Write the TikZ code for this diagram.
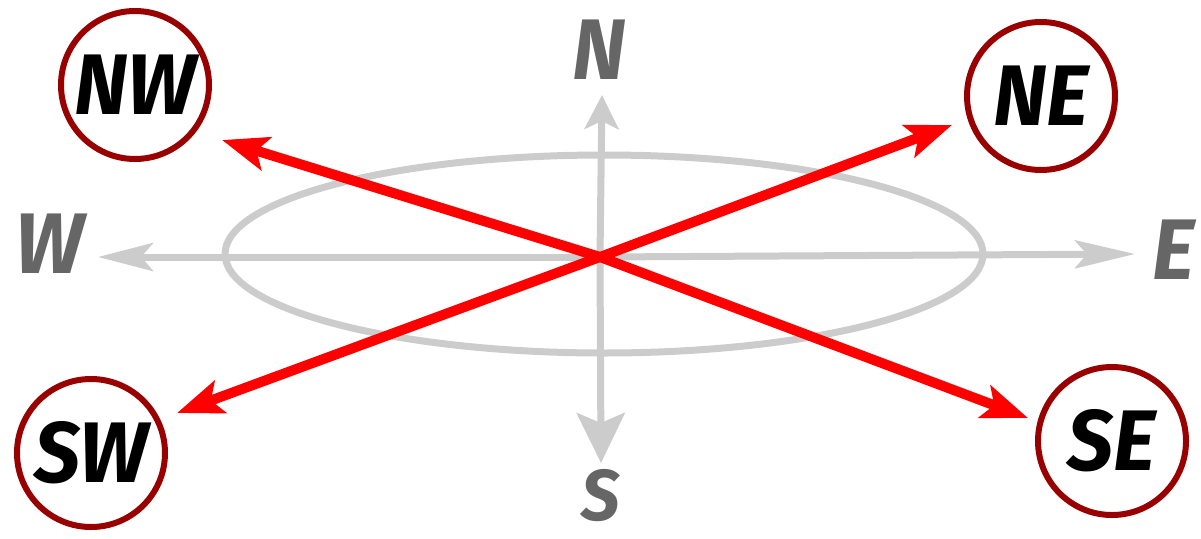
\documentclass[tikz,border=0pt]{standalone}
\usepackage{fontspec}
\setmainfont{Fira Sans}
\usetikzlibrary{arrows.meta}
\definecolor{axisgray}{HTML}{CCCCCC}
\definecolor{lblgray}{HTML}{666666}
\definecolor{ringred}{HTML}{990000}
\definecolor{arrred}{HTML}{FF0000}
\tikzset{
  axisline/.style={draw=axisgray, line width=7pt},
  ellipseline/.style={draw=axisgray, line width=7pt},
  redarrow/.style={draw=arrred, line width=10pt, -{Stealth[length=46pt,width=34pt,inset=10pt]}},
  ring/.style={circle, draw=ringred, line width=6pt, fill=white, minimum size=148pt, inner sep=0pt,
    font=\fontsize{86}{86}\selectfont\bfseries\itshape, text=black},
  compasslbl/.style={inner sep=0pt, font=\fontsize{86}{86}\selectfont\bfseries\itshape, text=lblgray}
}
\newcommand{\sq}[1]{\scalebox{0.95}[1]{#1}}
\begin{document}
\begin{tikzpicture}[x=1pt,y=-1pt]
\useasboundingbox (0,0) rectangle (1201,538);
% center and tips
\coordinate (c) at (600,257);
\coordinate (wtip) at (98,257);
\coordinate (etip) at (1135,254);
\coordinate (ntip) at (602,95);
\coordinate (stip) at (601,463);
\coordinate (tnw) at (222,140);
\coordinate (tne) at (952,125);
\coordinate (tsw) at (177,413);
\coordinate (tse) at (1028,418);
% ellipse
\draw[ellipseline] (604,254) ellipse [x radius=379, y radius=99];
% axes
\draw[axisline, -{Stealth[length=55pt,width=28pt,inset=12pt]}] (c) -- (wtip);
\draw[axisline, -{Stealth[length=60pt,width=28pt,inset=12pt]}] (c) -- (etip);
\draw[axisline, -{Stealth[length=34pt,width=34pt,inset=8pt]}] (c) -- (ntip);
\draw[axisline, -{Stealth[length=50pt,width=48pt,inset=10pt]}] (c) -- (stip);
% compass labels
\node[compasslbl] (lN) at (599,50) {\sq{N}};
\node[compasslbl, font=\fontsize{72}{72}\selectfont\bfseries\itshape] (lS) at (601,496) {\sq{S}};
\node[compasslbl] (lW) at (50,244) {\sq{W}};
\node[compasslbl] (lE) at (1174,250) {\sq{E}};
% red arrows
\draw[redarrow] (c) -- (tnw);
\draw[redarrow] (c) -- (tne);
\draw[redarrow] (c) -- (tsw);
\draw[redarrow] (c) -- (tse);
% circles
\node[ring] (nw) at (135,85) {\sq{NW}};
\node[ring] (ne) at (1041,96) {\sq{NE}};
\node[ring] (sw) at (91,453) {\sq{SW}};
\node[ring] (se) at (1112,441) {\sq{SE}};
\end{tikzpicture}
\end{document}
